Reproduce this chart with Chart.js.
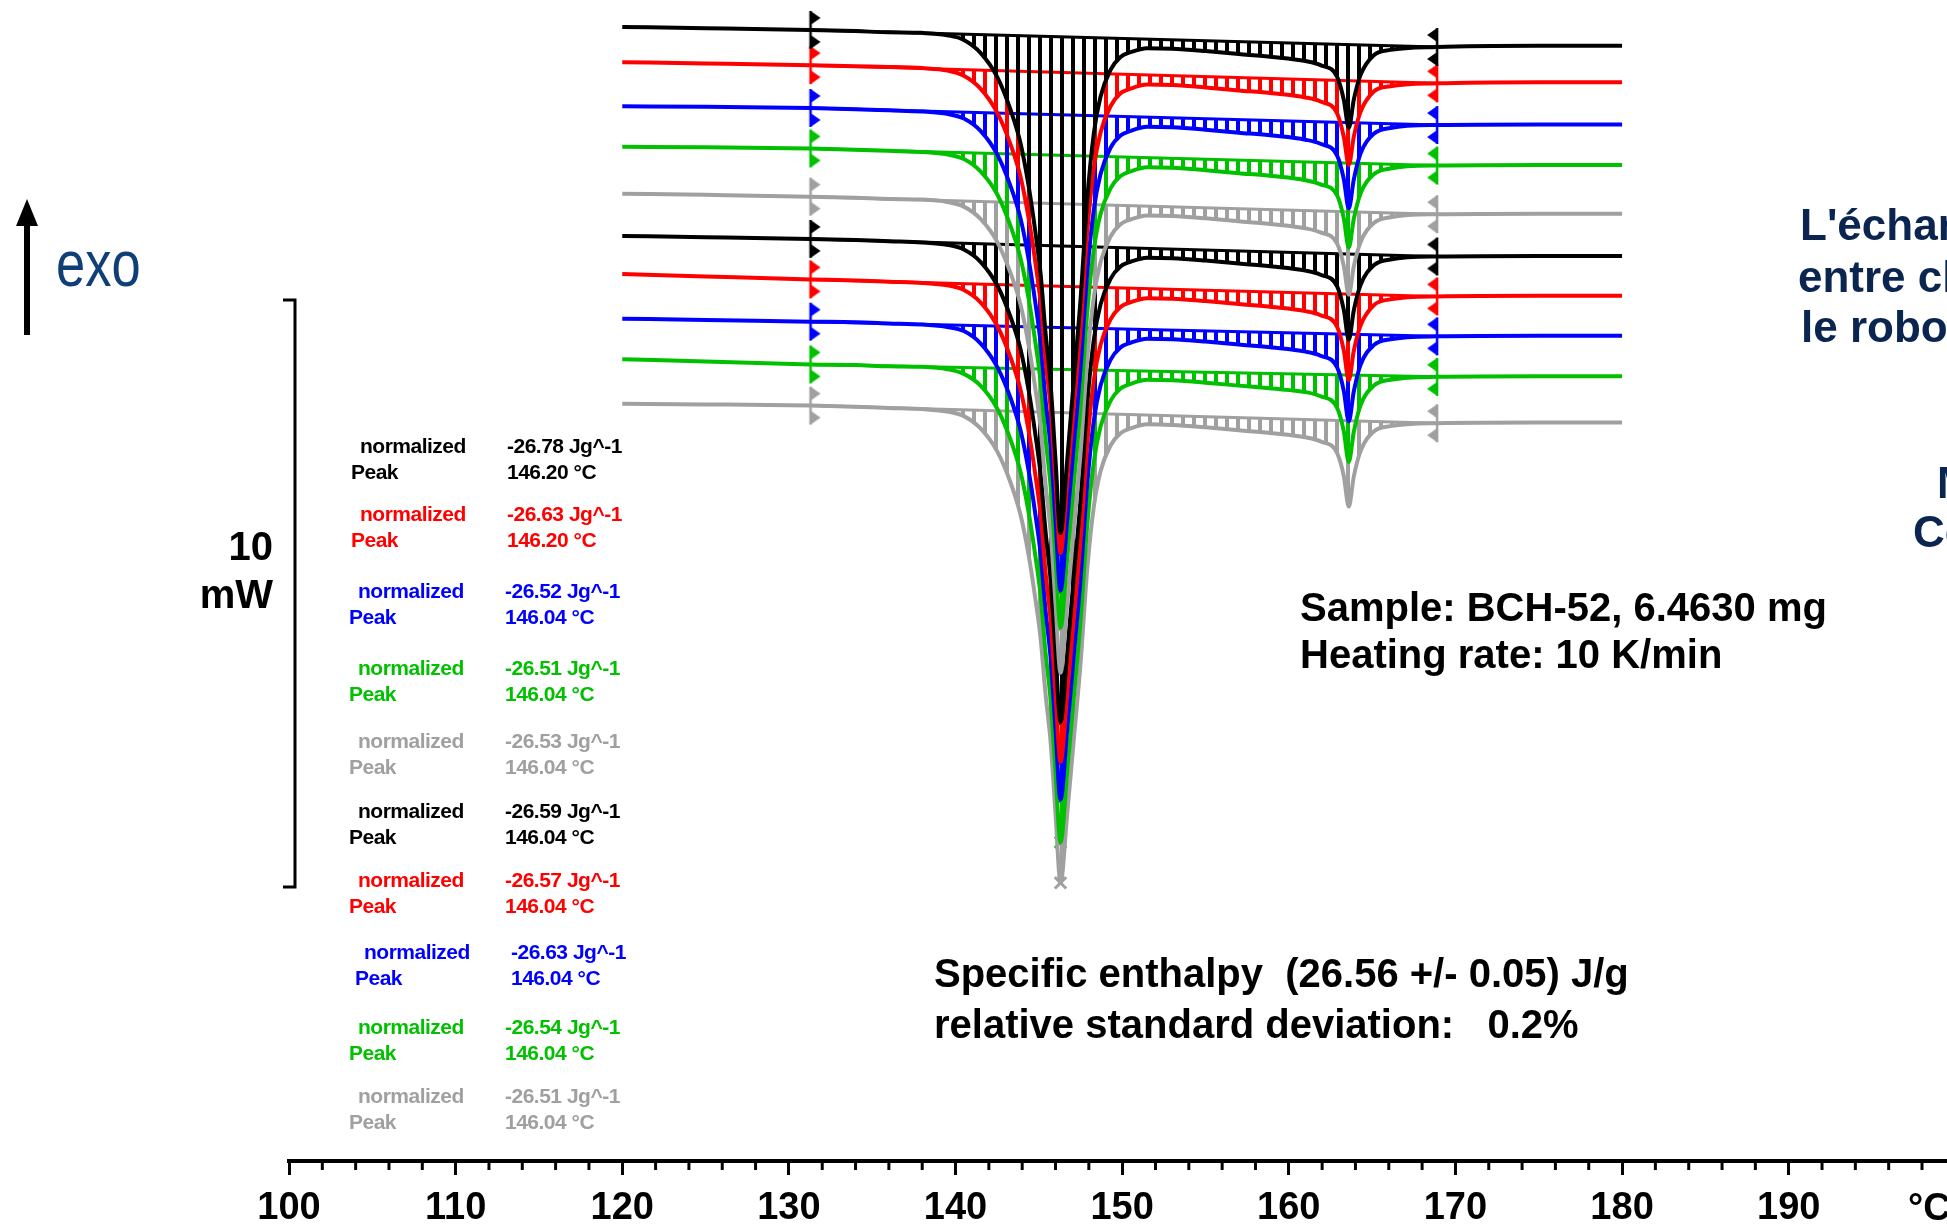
<!DOCTYPE html>
<html lang="fr">
<head>
<meta charset="utf-8">
<title>DSC BCH-52 - répétabilité</title>
<script src="https://cdn.jsdelivr.net/npm/chart.js@4.4.1/dist/chart.umd.min.js"></script>
<style>
  html, body { margin: 0; padding: 0; background: #fff; overflow: hidden; }
  #wrap { position: relative; width: 1947px; height: 1225px; overflow: hidden; }
  #dsc { position: absolute; left: 0; top: 0; }
  .t { position: absolute; white-space: pre; font-family: 'Liberation Sans', Arial, sans-serif; font-weight: bold; line-height: 1; }
  .ann { font-size: 21px; letter-spacing: -0.5px; }
  .big { font-size: 40px; color: #000; }
  .navy { font-size: 44px; color: #0a2550; }
</style>
</head>
<body>
<div id="wrap">
  <canvas id="dsc" width="1947" height="1225"></canvas>

  <div class="t" style="left:56px; top:232px; font-size:64px; font-weight:normal; color:#103f78; transform:scaleX(0.82); transform-origin:left top;">exo</div>
  <div class="t big" style="left:173px; width:100px; text-align:right; top:526px;">10</div>
  <div class="t big" style="left:173px; width:100px; text-align:right; top:574px;">mW</div>

  <div class="t big" style="left:1300px; top:587px;">Sample: BCH-52, 6.4630 mg</div>
  <div class="t big" style="left:1300px; top:634px;">Heating rate: 10 K/min</div>
  <div class="t big" style="left:934px; top:953px;">Specific enthalpy  (26.56 +/- 0.05) J/g</div>
  <div class="t big" style="left:934px; top:1004px;">relative standard deviation:   0.2%</div>

  <div class="t navy" style="left:1800px; top:203px;">L'échan</div>
  <div class="t navy" style="left:1798px; top:255px;">entre ch</div>
  <div class="t navy" style="left:1801px; top:305px;">le robot</div>
  <div class="t navy" style="left:1937px; top:461px;">M</div>
  <div class="t navy" style="left:1913px; top:510px;">Co</div>

  <div class="t" style="left:1908px; top:1188px; font-size:38px; color:#000;">°C</div>
  <div id="notes"></div>
</div>

<script>
// temperatures (°C) where the curves were read
const temps = [120, 125, 131.3, 134, 136, 138, 139.5, 140.5, 141.5, 142.5,
  143.3, 143.9, 144.4, 144.8, 145.1, 145.4, 145.7, 146.0, 146.3, 146.7,
  147.1, 147.5, 147.9, 148.3, 148.7, 149.3, 149.9, 150.5, 151.5, 153,
  155, 157, 159, 161, 161.9, 162.9, 163.3, 163.6, 163.9, 164.3,
  165.1, 166.1, 168.9, 175, 180];

// heat flow (mW) of each run, relative to its value at 120 °C
const heatFlow1 = [0, -0.02, -0.05, -0.07, -0.09, -0.10, -0.14, -0.22, -0.44, -0.85, -1.41, -1.98, -2.73, -3.51, -4.19, -5.21, -6.06, -7.38, -8.62, -7.38, -6.01, -4.65, -2.95, -1.81, -1.19, -0.73, -0.51, -0.43, -0.36, -0.37, -0.41, -0.46, -0.51, -0.58, -0.65, -0.85, -1.24, -1.72, -1.24, -0.82, -0.48, -0.39, -0.34, -0.32, -0.32];
const heatFlow2 = [0, -0.02, -0.05, -0.07, -0.08, -0.10, -0.14, -0.23, -0.45, -0.86, -1.40, -1.95, -2.68, -3.43, -4.08, -5.07, -5.88, -7.15, -8.36, -7.16, -5.85, -4.53, -2.90, -1.80, -1.20, -0.75, -0.53, -0.45, -0.38, -0.39, -0.43, -0.48, -0.53, -0.60, -0.67, -0.87, -1.27, -1.75, -1.27, -0.85, -0.50, -0.41, -0.36, -0.34, -0.34];
const heatFlow3 = [0, -0.01, -0.03, -0.05, -0.07, -0.09, -0.13, -0.21, -0.42, -0.82, -1.36, -1.91, -2.63, -3.37, -4.02, -5.00, -5.80, -7.05, -8.25, -7.06, -5.77, -4.47, -2.85, -1.76, -1.16, -0.71, -0.50, -0.42, -0.35, -0.36, -0.40, -0.45, -0.50, -0.57, -0.64, -0.84, -1.24, -1.74, -1.25, -0.81, -0.47, -0.37, -0.32, -0.31, -0.31];
const heatFlow4 = [0, -0.01, -0.03, -0.05, -0.07, -0.09, -0.13, -0.21, -0.42, -0.81, -1.35, -1.90, -2.61, -3.35, -3.99, -4.96, -5.76, -7.00, -8.19, -7.01, -5.73, -4.44, -2.83, -1.75, -1.15, -0.71, -0.50, -0.42, -0.35, -0.36, -0.40, -0.45, -0.50, -0.57, -0.64, -0.83, -1.22, -1.72, -1.23, -0.80, -0.47, -0.37, -0.32, -0.31, -0.31];
const heatFlow5 = [0, -0.02, -0.05, -0.07, -0.09, -0.10, -0.14, -0.22, -0.43, -0.82, -1.35, -1.89, -2.60, -3.34, -3.98, -4.94, -5.74, -6.98, -8.16, -6.99, -5.71, -4.43, -2.83, -1.76, -1.17, -0.73, -0.52, -0.44, -0.37, -0.38, -0.42, -0.47, -0.52, -0.59, -0.66, -0.85, -1.23, -1.72, -1.24, -0.83, -0.50, -0.40, -0.35, -0.34, -0.34];
const heatFlow6 = [0, -0.02, -0.05, -0.07, -0.09, -0.11, -0.15, -0.23, -0.44, -0.84, -1.38, -1.93, -2.65, -3.40, -4.05, -5.03, -5.84, -7.10, -8.28, -7.11, -5.80, -4.50, -2.87, -1.77, -1.17, -0.73, -0.52, -0.44, -0.37, -0.38, -0.42, -0.47, -0.52, -0.59, -0.66, -0.86, -1.26, -1.77, -1.27, -0.84, -0.50, -0.40, -0.35, -0.34, -0.34];
const heatFlow7 = [0, -0.04, -0.09, -0.11, -0.13, -0.15, -0.19, -0.27, -0.48, -0.88, -1.42, -1.97, -2.69, -3.44, -4.09, -5.07, -5.89, -7.14, -8.31, -7.15, -5.84, -4.54, -2.91, -1.81, -1.21, -0.77, -0.56, -0.48, -0.41, -0.42, -0.46, -0.51, -0.56, -0.63, -0.70, -0.90, -1.30, -1.81, -1.31, -0.88, -0.53, -0.43, -0.38, -0.37, -0.37];
const heatFlow8 = [0, -0.02, -0.05, -0.06, -0.08, -0.10, -0.14, -0.21, -0.42, -0.82, -1.35, -1.90, -2.61, -3.35, -3.99, -4.96, -5.76, -7.00, -8.19, -7.01, -5.73, -4.44, -2.83, -1.74, -1.14, -0.70, -0.49, -0.41, -0.34, -0.35, -0.39, -0.44, -0.49, -0.56, -0.63, -0.83, -1.23, -1.75, -1.24, -0.79, -0.45, -0.35, -0.30, -0.29, -0.29];
const heatFlow9 = [0, -0.04, -0.09, -0.10, -0.12, -0.13, -0.17, -0.25, -0.45, -0.84, -1.37, -1.92, -2.63, -3.37, -4.01, -4.99, -5.79, -7.03, -8.23, -7.04, -5.75, -4.46, -2.84, -1.75, -1.15, -0.71, -0.50, -0.42, -0.35, -0.36, -0.40, -0.45, -0.50, -0.56, -0.63, -0.83, -1.23, -1.75, -1.24, -0.79, -0.45, -0.35, -0.30, -0.29, -0.29];
const heatFlow10 = [0, -0.01, -0.03, -0.05, -0.07, -0.09, -0.13, -0.21, -0.42, -0.81, -1.34, -1.89, -2.60, -3.34, -3.98, -4.94, -5.74, -6.98, -8.16, -6.99, -5.71, -4.43, -2.83, -1.75, -1.15, -0.71, -0.50, -0.42, -0.35, -0.36, -0.40, -0.45, -0.50, -0.57, -0.64, -0.84, -1.23, -1.75, -1.24, -0.81, -0.47, -0.38, -0.33, -0.32, -0.32];

// stacking offset of each run on the plot (mW)
const curveOffset = [-0.46, -1.06, -1.81, -2.50, -3.30, -4.02, -4.67, -5.43, -6.12, -6.88];
const curveColors = ['#000000', '#ff0000', '#0000ff', '#00c000', '#a0a0a0',
  '#000000', '#ff0000', '#0000ff', '#00c000', '#a0a0a0'];

// integration limits and peak (°C)
const intLimits = [131.3, 168.9];
const peakTemp = 146.3;

// evaluation results per run
const normEnthalpy = ['-26.78', '-26.63', '-26.52', '-26.51', '-26.53', '-26.59', '-26.57', '-26.63', '-26.54', '-26.51'];
const peakLabel = ['146.20', '146.20', '146.04', '146.04', '146.04', '146.04', '146.04', '146.04', '146.04', '146.04'];

// 10 mW scale bar (top value in mW)
const scaleBarTop = -5.11;
const scaleBarSpan = 10;

// texte des résultats à gauche
const rowTop = [435, 503, 580, 657, 730, 800, 869, 941, 1016, 1085];
const rowShift = [2, 2, 0, 0, 0, 0, 0, 6, 0, 0];
const notes = document.getElementById('notes');
normEnthalpy.forEach((v, i) => {
    const c = curveColors[i];
    const s = rowShift[i];
    const top = rowTop[i];
    notes.insertAdjacentHTML('beforeend',
        `<div class="t ann" style="color:${c}; left:${358 + s}px; top:${top}px;">normalized</div>` +
        `<div class="t ann" style="color:${c}; left:${505 + s}px; top:${top}px;">${v} Jg^-1</div>` +
        `<div class="t ann" style="color:${c}; left:${349 + s}px; top:${top + 26}px;">Peak</div>` +
        `<div class="t ann" style="color:${c}; left:${505 + s}px; top:${top + 26}px;">${peakLabel[i]} °C</div>`);
});

// motif hachuré vertical
function hatch(col) {
    const c = document.createElement('canvas');
    c.width = 11;
    c.height = 2;
    const g = c.getContext('2d');
    g.fillStyle = col;
    g.fillRect(4, 0, 4, 2);
    return g.createPattern(c, 'repeat');
}

// marque de limite d'intégration (dir 1 = vers la droite, -1 = vers la gauche)
function limitMark(col, dir) {
    const c = document.createElement('canvas');
    c.width = 26;
    c.height = 50;
    const g = c.getContext('2d');
    g.fillStyle = col;
    g.strokeStyle = col;
    g.lineWidth = 2.5;
    g.beginPath();
    g.moveTo(13, 6);
    g.lineTo(13, 44);
    g.stroke();
    [13, 37].forEach(cy => {
        g.beginPath();
        g.moveTo(13, cy - 7);
        g.lineTo(13 + dir * 10, cy);
        g.lineTo(13, cy + 7);
        g.closePath();
        g.fill();
    });
    return c;
}

const heatFlows = [heatFlow1, heatFlow2, heatFlow3, heatFlow4, heatFlow5,
    heatFlow6, heatFlow7, heatFlow8, heatFlow9, heatFlow10];
const iA = temps.indexOf(intLimits[0]);
const iB = temps.indexOf(intLimits[1]);
const iP = temps.indexOf(peakTemp);

const datasets = [];
heatFlows.forEach((hf, i) => {
    const col = curveColors[i];
    const pts = temps.map((t, k) => ({ x: t, y: curveOffset[i] + hf[k] }));
    // courbe
    datasets.push({ data: pts, borderColor: col, borderWidth: 4, pointRadius: 0,
        cubicInterpolationMode: 'monotone', fill: false });
    // ligne de base
    datasets.push({ data: [pts[iA], pts[iB]], borderColor: col, borderWidth: 3, pointRadius: 0, fill: false });
    // surface hachurée entre courbe et ligne de base
    datasets.push({ data: pts.slice(iA, iB + 1), borderWidth: 0, borderColor: 'rgba(0,0,0,0)', pointRadius: 0,
        cubicInterpolationMode: 'monotone', fill: '-1', backgroundColor: hatch(col) });
    // limites + pic (dessinés sous les courbes)
    datasets.push({ data: [pts[iA], pts[iB], pts[iP]], showLine: false, order: 1,
        pointStyle: [limitMark(col, 1), limitMark(col, -1), 'crossRot'],
        pointRadius: 8, pointBorderWidth: 3, pointBorderColor: col, pointBackgroundColor: col });
});

const decorPlugin = {
    id: 'decor',
    afterDraw(chart) {
        const ctx = chart.ctx;
        const xs = chart.scales.x;
        const ys = chart.scales.y;
        const axisY = chart.chartArea.bottom;
        ctx.save();
        ctx.strokeStyle = '#000';
        ctx.fillStyle = '#000';
        ctx.lineWidth = 3;
        // petites graduations tous les 2 °C
        for (let t = 102; t < xs.max; t += 2) {
            if (t % 10 === 0) continue;
            const px = xs.getPixelForValue(t);
            ctx.beginPath();
            ctx.moveTo(px, axisY);
            ctx.lineTo(px, axisY + 9);
            ctx.stroke();
        }
        // barre d'échelle 10 mW
        const bx = xs.getPixelForValue(100) + 6;
        const y1 = ys.getPixelForValue(scaleBarTop);
        const y2 = ys.getPixelForValue(scaleBarTop - scaleBarSpan);
        ctx.beginPath();
        ctx.moveTo(bx - 12, y1);
        ctx.lineTo(bx, y1);
        ctx.lineTo(bx, y2);
        ctx.lineTo(bx - 12, y2);
        ctx.stroke();
        // flèche exo
        ctx.lineWidth = 6;
        ctx.beginPath();
        ctx.moveTo(27, 335);
        ctx.lineTo(27, 222);
        ctx.stroke();
        ctx.beginPath();
        ctx.moveTo(16, 226);
        ctx.lineTo(27, 199);
        ctx.lineTo(38, 226);
        ctx.closePath();
        ctx.fill();
        ctx.restore();
    }
};

new Chart(document.getElementById('dsc'), {
    type: 'line',
    data: { datasets },
    plugins: [decorPlugin],
    options: {
        responsive: false,
        animation: false,
        devicePixelRatio: 1,
        events: [],
        layout: { autoPadding: false, padding: { left: 289, right: 0, top: 0, bottom: 0 } },
        plugins: {
            legend: { display: false },
            tooltip: { enabled: false },
            title: { display: false }
        },
        scales: {
            x: {
                type: 'linear',
                position: 'bottom',
                min: 100,
                max: 199.5,
                afterFit: (scale) => { scale.height = 64; },
                border: { display: true, color: '#000', width: 4 },
                grid: { drawOnChartArea: false, drawTicks: true, tickLength: 14, tickWidth: 3, tickColor: '#000' },
                ticks: {
                    stepSize: 10,
                    includeBounds: false,
                    autoSkip: false,
                    maxRotation: 0,
                    padding: 11,
                    color: '#000',
                    font: { family: "'Liberation Sans', Arial, sans-serif", size: 38, weight: 'bold' }
                }
            },
            y: { display: false, min: -19.78, max: 0 }
        }
    }
});
</script>
</body>
</html>
